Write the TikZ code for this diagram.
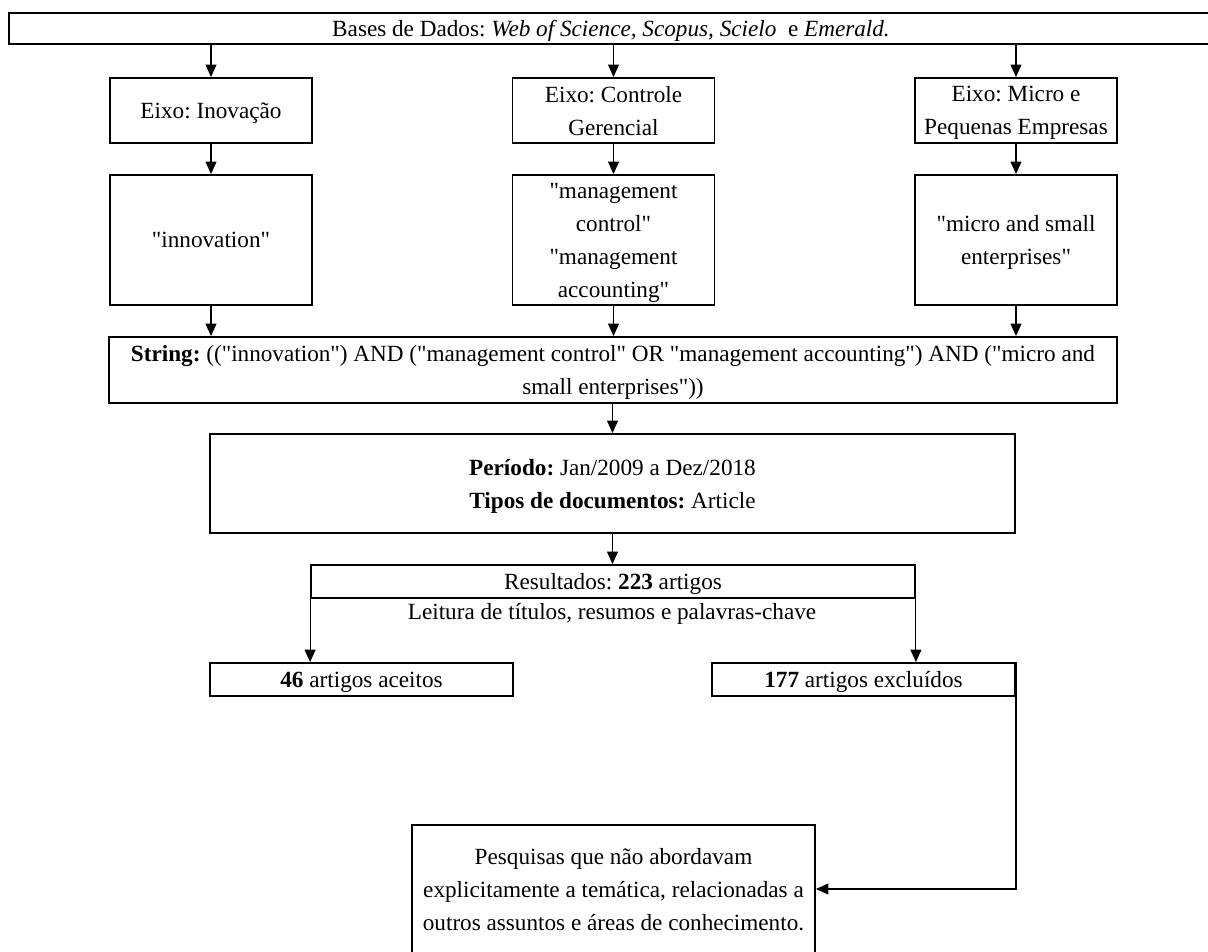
\documentclass[tikz,border=0pt]{standalone}
\usepackage{fontspec}
\setmainfont{Liberation Serif}[Ligatures=TeXOff]
\usetikzlibrary{arrows.meta}
\frenchspacing

\begin{document}
\begin{tikzpicture}[x=0.02cm,y=-0.02cm,
        caixa/.style={draw,line width=1.1pt,inner sep=0pt,text depth=0pt,align=center,font=\fontsize{13.2}{18.8}\selectfont},
        texto/.style={inner sep=0pt,align=center,font=\fontsize{13.2}{18.8}\selectfont},
        seta/.style={line width=0.65pt,-{Triangle[length=0.25cm,width=0.22cm]}}]
    \useasboundingbox (0,0) rectangle (1208,951);
    \node[caixa,minimum width=24.08cm,minimum height=0.62cm] (bases) at (611,28.5) {Bases de Dados: \textit{Web of Science, Scopus, Scielo} \ e \textit{Emerald.}};
    \node[caixa,minimum width=4.04cm,minimum height=1.3cm] (eixo1) at (211,110.5) {Eixo: Inovação};
    \node[caixa,minimum width=4.04cm,minimum height=1.3cm] (eixo2) at (613.5,110.5) {Eixo: Controle\\Gerencial};
    \node[caixa,minimum width=4.04cm,minimum height=1.3cm] (eixo3) at (1016,110.5) {Eixo: Micro e\\Pequenas Empresas};
    \node[caixa,minimum width=4.04cm,minimum height=2.6cm] (termo1) at (211,240) {"innovation"};
    \node[caixa,minimum width=4.04cm,minimum height=2.6cm] (termo2) at (613.5,240) {"management\\control"\\"management\\accounting"};
    \node[caixa,minimum width=4.04cm,minimum height=2.6cm] (termo3) at (1016,240) {"micro and small\\enterprises"};
    \node[caixa,minimum width=20.16cm,minimum height=1.32cm] (string) at (613,370) {\textbf{String:} (("innovation") AND ("management control" OR "management accounting") AND ("micro and\\small enterprises"))};
    \node[caixa,minimum width=16.1cm,minimum height=1.98cm] (periodo) at (612.5,483.5) {\textbf{Período:} Jan/2009 a Dez/2018\\\textbf{Tipos de documentos:} Article};
    \node[caixa,minimum width=12.08cm,minimum height=0.66cm] (resultados) at (613,581.5) {Resultados: \textbf{223} artigos};
    \node[texto] (leitura) at (612,614) {Leitura de títulos, resumos e palavras-chave};
    \node[caixa,minimum width=6.06cm,minimum height=0.66cm] (aceitos) at (361.5,679.5) {\textbf{46} artigos aceitos};
    \node[caixa,minimum width=6.06cm,minimum height=0.66cm] (excluidos) at (863.5,679.5) {\textbf{177} artigos excluídos};
    \node[caixa,minimum width=8.06cm,minimum height=2.56cm] (pesquisas) at (613.5,889) {Pesquisas que não abordavam\\explicitamente a temática, relacionadas a\\outros assuntos e áreas de conhecimento.};
    \foreach \n in {1,2,3} {
        \draw[seta] (bases.south -| eixo\n) -- (eixo\n);
        \draw[seta] (eixo\n) -- (termo\n);
        \draw[seta] (termo\n.south) -- (termo\n.south |- string.north);
    }
    \draw[seta] (string.south -| periodo) -- (periodo);
    \draw[seta] (periodo) -- (periodo.south |- resultados.north);
    \draw[seta] (resultados.south west) -- (resultados.south west |- aceitos.north);
    \draw[seta] (resultados.south east) -- (resultados.south east |- excluidos.north);
    \draw[seta] (excluidos.north east) |- (pesquisas.east);
\end{tikzpicture}
\end{document}
